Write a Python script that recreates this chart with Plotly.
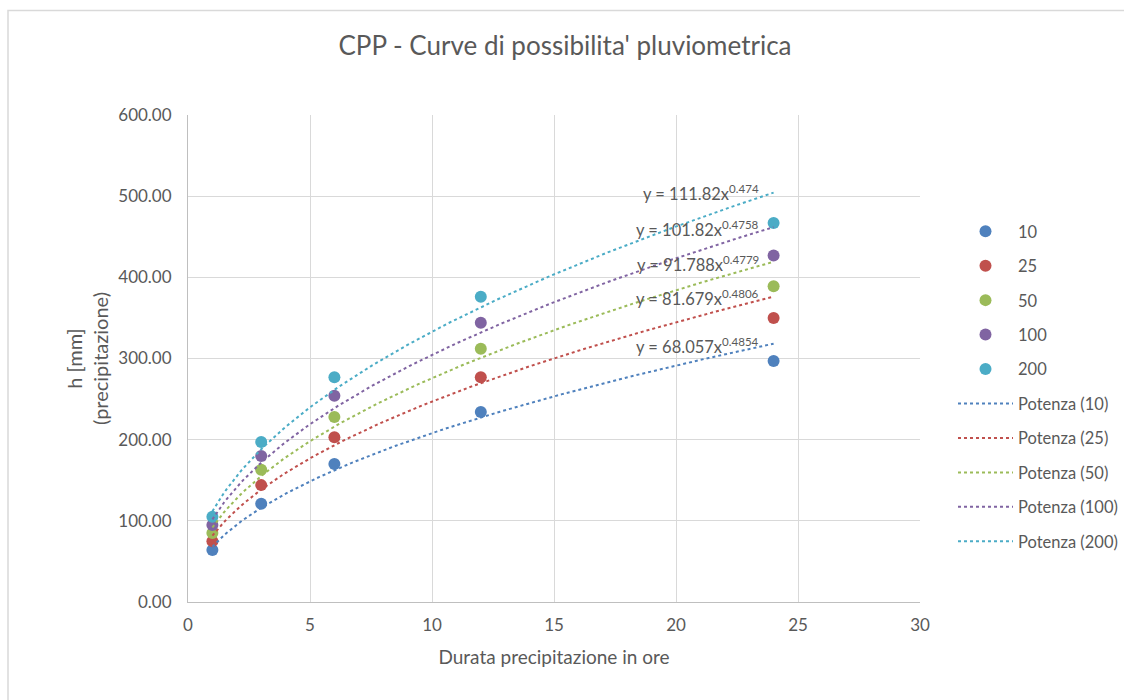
import numpy as np
import plotly.graph_objects as go

durations = [1, 3, 6, 12, 24]
return_periods = ["10", "25", "50", "100", "200"]
h_10 = [64, 121, 170, 234, 297]
h_25 = [75, 144, 203, 277, 350]
h_50 = [85, 163, 228, 312, 389]
h_100 = [95, 180, 254, 344, 427]
h_200 = [105, 197, 277, 376, 467]
coef_a = [68.057, 81.679, 91.788, 101.82, 111.82]
coef_b = [0.4854, 0.4806, 0.4779, 0.4758, 0.474]
eq_labels = ["y = 68.057x<sup>0.4854</sup>", "y = 81.679x<sup>0.4806</sup>",
             "y = 91.788x<sup>0.4779</sup>", "y = 101.82x<sup>0.4758</sup>",
             "y = 111.82x<sup>0.474</sup>"]
eq_label_y = [315, 374, 416, 460, 504]
colors = ["#4F81BD", "#C0504D", "#9BBB59", "#8064A2", "#4BACC6"]

series = [h_10, h_25, h_50, h_100, h_200]
FONT = "Lato"
GRAY = "#595959"

fig = go.Figure()
for i, (name, ys) in enumerate(zip(return_periods, series)):
    fig.add_trace(go.Scatter(
        x=durations, y=ys, mode="markers", name=name,
        marker=dict(color=colors[i], size=12),
        legendgroup="m" + name,
    ))
xs = np.linspace(1, 24, 200)
for i, name in enumerate(return_periods):
    fig.add_trace(go.Scatter(
        x=xs, y=coef_a[i] * xs ** coef_b[i], mode="lines",
        name=f"Potenza ({name})",
        line=dict(color=colors[i], width=2, dash="dot"),
        legendgroup="l" + name,
    ))
for i in range(5):
    fig.add_annotation(x=23.5, y=eq_label_y[i], xref="x", yref="y",
                       text=eq_labels[i], showarrow=False, xanchor="right",
                       yanchor="middle",
                       font=dict(family=FONT, size=16.5, color=GRAY))

fig.update_layout(
    width=1124, height=700,
    margin=dict(l=188, r=204, t=115, b=98, autoexpand=False),
    paper_bgcolor="white", plot_bgcolor="white",
    title=dict(text="CPP - Curve di possibilita' pluviometrica", x=565 / 1124,
               xref="container", xanchor="center", y=0.935, yanchor="middle",
               font=dict(family=FONT, size=26, color=GRAY)),
    font=dict(family=FONT, size=16, color=GRAY),
    legend=dict(x=953 / 1124, y=1 - 214 / 700, xref="container", yref="container",
                xanchor="left", yanchor="top",
                tracegroupgap=10, itemwidth=55,
                font=dict(family=FONT, size=16.5, color=GRAY),
                bgcolor="rgba(0,0,0,0)"),
    xaxis=dict(range=[0, 30], dtick=5, showgrid=True, gridcolor="#D9D9D9",
               gridwidth=1, zeroline=False, showline=True, linecolor="#BFBFBF",
               ticks="", ticklabelstandoff=8, automargin=False,
               title=dict(text="Durata precipitazione in ore",
                          font=dict(family=FONT, size=19, color=GRAY),
                          standoff=16),
               tickfont=dict(family=FONT, size=17, color=GRAY)),
    yaxis=dict(range=[0, 600], dtick=100, tickformat=".2f", showgrid=True,
               gridcolor="#D9D9D9", gridwidth=1, zeroline=False, showline=True,
               linecolor="#BFBFBF", ticks="", ticklen=0, ticklabelstandoff=12,
               automargin=False,
               title=dict(text="h [mm]<br>(precipitazione)",
                          font=dict(family=FONT, size=20, color=GRAY), standoff=4),
               tickfont=dict(family=FONT, size=17, color=GRAY)),
)
fig.add_shape(type="rect", xref="paper", yref="paper",
              x0=(8 - 188) / 732, x1=1.6, y0=-0.5, y1=1 + (115 - 10.5) / 487,
              line=dict(color="#D9D9D9", width=1.5), fillcolor="rgba(0,0,0,0)",
              layer="below")
fig.write_html("out.html")
